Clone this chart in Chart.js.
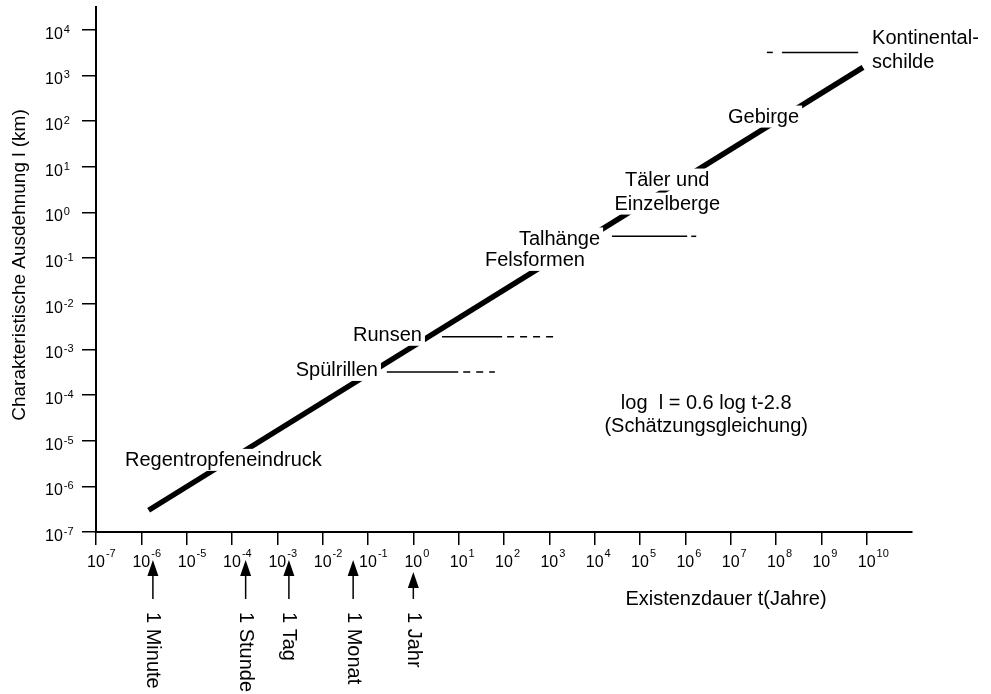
<!DOCTYPE html>
<html lang="de">
<head>
<meta charset="utf-8">
<title>Existenzdauer und Ausdehnung von Landformen</title>
<script src="https://cdn.jsdelivr.net/npm/chart.js@4/dist/chart.umd.min.js"></script>
<style>
  html, body { margin: 0; padding: 0; background: #fff; }
  #c { display: block; }
</style>
</head>
<body>
<canvas id="c" width="991" height="694"></canvas>
<script>
// Dekaden der beiden logarithmischen Achsen
const X_EXPONENTS = [-7, -6, -5, -4, -3, -2, -1, 0, 1, 2, 3, 4, 5, 6, 7, 8, 9, 10];
const Y_EXPONENTS = [-7, -6, -5, -4, -3, -2, -1, 0, 1, 2, 3, 4];

// Schätzgerade (Existenzdauer in Jahren, Ausdehnung in km)
const trendT = [1.45e-6, 8.3e9];
const trendL = [3.0e-7, 1.5e3];

// Wertebereiche einzelner Formen: Niveau l, durchgezogener und gestrichelter Abschnitt in t
const rangeNames      = ['Spülrillen', 'Runsen', 'Talhänge', 'Kontinentalschilde'];
const rangeLevel      = [3.2e-4, 1.9e-3, 0.30, 3.2e3];
const rangeSolidFrom  = [0.26, 4.3, 2.4e4, 1.35e8];
const rangeSolidTo    = [9.8, 91, 1.1e6, 6.5e9];
const rangeDashFrom   = [12.6, 117, 1.35e6, 6.3e7];
const rangeDashTo     = [63, 1350, 1.74e6, 8.5e7];

// Zeitmarken unter der t-Achse
const timeMarkNames  = ['1 Minute', '1 Stunde', '1 Tag', '1 Monat', '1 Jahr'];
const timeMarkValues = [1.8e-6, 2.0e-4, 1.8e-3, 4.7e-2, 1.0];

// Beschriftungen der Formen
const formNames = ['Regentropfeneindruck', 'Spülrillen', 'Runsen', 'Felsformen', 'Talhänge',
                   'Täler und\nEinzelberge', 'Gebirge', 'Kontinental-\nschilde'];
const equationText = 'log  l = 0.6 log t-2.8\n(Schätzungsgleichung)';

const FONT = '"Liberation Sans", Arial, Helvetica, sans-serif';

// Ankerpunkte der Beschriftungen (Datenkoordinaten) und Ausrichtung
const labelPlacement = [
  { t: 10 ** -6.36, l: 10 ** -5.42, align: 'left' },
  { t: 10 ** -0.78, l: 10 ** -3.45, align: 'right' },
  { t: 10 ** 0.19,  l: 10 ** -2.68, align: 'right' },
  { t: 10 ** 1.58,  l: 10 ** -1.04, align: 'left' },
  { t: 10 ** 4.12,  l: 10 ** -0.57, align: 'right' },
  { t: 10 ** 5.60,  l: 10 ** 0.72,  align: 'center' },
  { t: 10 ** 6.94,  l: 10 ** 2.10,  align: 'left' },
  { t: 10 ** 10.12, l: 10 ** 3.83,  align: 'left' }
];
const equationPlacement = { t: 10 ** 6.46, l: 10 ** -4.17, align: 'center' };

const pts = (xs, ys) => xs.map((v, i) => ({ x: v, y: ys[i] }));

const datasets = [{
  label: 'Schätzgerade',
  data: pts(trendT, trendL),
  showLine: true,
  borderColor: '#000',
  borderWidth: 5.5,
  borderCapStyle: 'butt',
  pointRadius: 0
}];
rangeNames.forEach((name, i) => {
  datasets.push({
    label: name,
    data: [{ x: rangeSolidFrom[i], y: rangeLevel[i] }, { x: rangeSolidTo[i], y: rangeLevel[i] }],
    showLine: true, borderColor: '#000', borderWidth: 1.5, pointRadius: 0
  });
  datasets.push({
    label: name + ' (unsicher)',
    data: [{ x: rangeDashFrom[i], y: rangeLevel[i] }, { x: rangeDashTo[i], y: rangeLevel[i] }],
    showLine: true, borderColor: '#000', borderWidth: 1.5, borderDash: [7, 6], pointRadius: 0
  });
});

const decadeTicks = exps => scale => {
  scale.ticks = exps.map(e => ({ value: Number('1e' + e) }));
};

// Beschriftungen mit weißem Hintergrund über der Geraden
function drawLabel(ctx, chart, text, place, lineHeight) {
  const { x, y } = chart.scales;
  const px = x.getPixelForValue(place.t);
  const py = y.getPixelForValue(place.l);
  ctx.font = '20px ' + FONT;
  ctx.textBaseline = 'middle';
  ctx.textAlign = place.align;
  text.split('\n').forEach((line, k) => {
    const ly = py + k * lineHeight;
    const w = ctx.measureText(line).width;
    let left = px;
    if (place.align === 'right') left = px - w;
    if (place.align === 'center') left = px - w / 2;
    ctx.fillStyle = '#fff';
    ctx.fillRect(left - 3, ly - 11, w + 6, 22);
    ctx.fillStyle = '#000';
    ctx.fillText(line, px, ly + 1);
  });
}

const annotationPlugin = {
  id: 'formLabels',
  afterDatasetsDraw(chart) {
    const ctx = chart.ctx;
    ctx.save();
    formNames.forEach((name, i) => drawLabel(ctx, chart, name, labelPlacement[i], 24));
    drawLabel(ctx, chart, equationText, equationPlacement, 23);
    ctx.restore();
  }
};

const axisTextPlugin = {
  id: 'axisText',
  afterDraw(chart) {
    const { ctx, chartArea, scales: { x, y } } = chart;
    ctx.save();
    ctx.fillStyle = '#000';
    ctx.strokeStyle = '#000';

    // Zehnerpotenzen an der t-Achse
    X_EXPONENTS.forEach(e => {
      const px = x.getPixelForValue(Number('1e' + e));
      ctx.font = '16px ' + FONT;
      ctx.textAlign = 'center';
      ctx.textBaseline = 'alphabetic';
      ctx.fillText('10', px, chartArea.bottom + 35);
      const w = ctx.measureText('10').width;
      ctx.font = '11px ' + FONT;
      ctx.textAlign = 'left';
      ctx.fillText(String(e), px + w / 2 + 1, chartArea.bottom + 25);
    });

    // Zehnerpotenzen an der l-Achse
    Y_EXPONENTS.forEach(e => {
      const py = y.getPixelForValue(Number('1e' + e));
      ctx.font = '16px ' + FONT;
      ctx.textAlign = 'left';
      ctx.textBaseline = 'alphabetic';
      const lx = chartArea.left - 51;
      ctx.fillText('10', lx, py + 9);
      const w = ctx.measureText('10').width;
      ctx.font = '11px ' + FONT;
      ctx.fillText(String(e), lx + w + 1, py + 3);
    });

    // Achsentitel
    ctx.font = '20px ' + FONT;
    ctx.textAlign = 'center';
    ctx.textBaseline = 'alphabetic';
    ctx.fillText('Existenzdauer t(Jahre)', 726, chartArea.bottom + 73);
    ctx.save();
    ctx.font = '19px ' + FONT;
    ctx.translate(25, 265);
    ctx.rotate(-Math.PI / 2);
    ctx.textAlign = 'center';
    ctx.fillText('Charakteristische Ausdehnung l (km)', 0, 0);
    ctx.restore();

    // Zeitmarken mit Pfeilen
    timeMarkNames.forEach((name, i) => {
      const px = x.getPixelForValue(timeMarkValues[i]);
      const tip = chartArea.bottom + (timeMarkValues[i] === 1 ? 40 : 28);
      const end = chartArea.bottom + 67;
      ctx.lineWidth = 1.5;
      ctx.beginPath();
      ctx.moveTo(px, tip + 10);
      ctx.lineTo(px, end);
      ctx.stroke();
      ctx.beginPath();
      ctx.moveTo(px, tip);
      ctx.lineTo(px - 5.5, tip + 16);
      ctx.lineTo(px + 5.5, tip + 16);
      ctx.closePath();
      ctx.fill();

      ctx.save();
      ctx.translate(px, chartArea.bottom + 80);
      ctx.rotate(Math.PI / 2);
      ctx.font = '20px ' + FONT;
      ctx.textAlign = 'left';
      ctx.textBaseline = 'middle';
      ctx.fillText(name, 0, 0);
      ctx.restore();
    });
    ctx.restore();
  }
};

new Chart(document.getElementById('c'), {
  type: 'scatter',
  data: { datasets },
  options: {
    responsive: false,
    animation: false,
    devicePixelRatio: 1,
    layout: { padding: { left: 82, right: 79, top: 7, bottom: 149 } },
    plugins: { legend: { display: false }, tooltip: { enabled: false } },
    scales: {
      x: {
        type: 'logarithmic',
        min: 1e-7,
        max: 1e11,
        afterBuildTicks: decadeTicks(X_EXPONENTS),
        ticks: { display: false },
        grid: { display: true, drawOnChartArea: false, drawTicks: true, tickLength: 13, color: '#000', lineWidth: 1.5 },
        border: { display: true, color: '#000', width: 2 }
      },
      y: {
        type: 'logarithmic',
        min: 1e-7,
        max: 10 ** 4.5,
        afterBuildTicks: decadeTicks(Y_EXPONENTS),
        ticks: { display: false },
        grid: { display: true, drawOnChartArea: false, drawTicks: true, tickLength: 14, color: '#000', lineWidth: 1.5 },
        border: { display: true, color: '#000', width: 2 }
      }
    }
  },
  plugins: [annotationPlugin, axisTextPlugin]
});
</script>
</body>
</html>
